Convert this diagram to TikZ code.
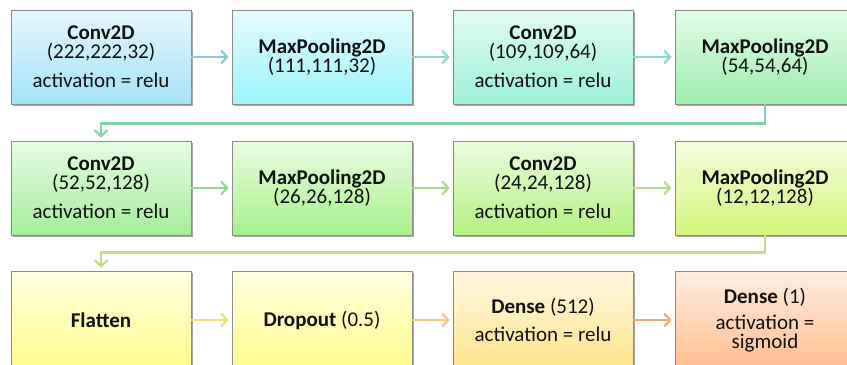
\documentclass[tikz,border=0pt]{standalone}
\usepackage{fontspec}
\setmainfont{Carlito}
\usetikzlibrary{arrows.meta,shadows}
\definecolor{boxborder}{HTML}{8C8C8C}
\definecolor{txt}{HTML}{111111}
\definecolor{t11}{HTML}{E6F7FD}\definecolor{b11}{HTML}{A4E2F7}
\definecolor{t12}{HTML}{E4FBFD}\definecolor{b12}{HTML}{9EF5FA}
\definecolor{t13}{HTML}{E2FBF4}\definecolor{b13}{HTML}{9CF1D8}
\definecolor{t14}{HTML}{E2FCE8}\definecolor{b14}{HTML}{9EEDAE}
\definecolor{t21}{HTML}{E6FBE3}\definecolor{b21}{HTML}{A4EF9A}
\definecolor{t22}{HTML}{E8FCE0}\definecolor{b22}{HTML}{A8F18C}
\definecolor{t23}{HTML}{EBFCDD}\definecolor{b23}{HTML}{B4F283}
\definecolor{t24}{HTML}{F4FDDC}\definecolor{b24}{HTML}{D4F67C}
\definecolor{t31}{HTML}{FFFFE0}\definecolor{b31}{HTML}{FFFC8C}
\definecolor{t32}{HTML}{FFFFE0}\definecolor{b32}{HTML}{FFFC8C}
\definecolor{t33}{HTML}{FFF8E2}\definecolor{b33}{HTML}{FFE48A}
\definecolor{t34}{HTML}{FFEEE2}\definecolor{b34}{HTML}{FFBE8E}
\definecolor{a11}{HTML}{8CCAD8}
\definecolor{a12}{HTML}{8CD8D0}
\definecolor{a13}{HTML}{8CDCB8}
\definecolor{l1}{HTML}{84D4A4}
\definecolor{a21}{HTML}{90DC90}
\definecolor{a22}{HTML}{A2DC84}
\definecolor{a23}{HTML}{B8E080}
\definecolor{l2}{HTML}{C4DE84}
\definecolor{a31}{HTML}{EEE080}
\definecolor{a32}{HTML}{F0CA84}
\definecolor{a33}{HTML}{F0AA76}
\begin{document}
\begin{tikzpicture}[x=1bp,y=1bp,
  layer/.style={draw=boxborder, line width=0.8bp, minimum width=180bp,
    minimum height=94bp, inner sep=0pt, align=center, text=txt,
    font=\fontsize{21bp}{19bp}\selectfont,
    drop shadow={shadow xshift=2bp, shadow yshift=-2bp, opacity=0.35, fill=black}},
  arr/.style={line width=2.2bp, shorten >=3bp,
    -{Straight Barb[length=6bp,width=13bp,line width=2.2bp]}}]
\useasboundingbox (0,0) rectangle (847,364);
% row 1
\node[layer, top color=t11, bottom color=b11] (n11) at (101,307)
  {\textbf{Conv2D}\\(222,222,32)\\[10bp]activation = relu};
\node[layer, top color=t12, bottom color=b12] (n12) at (322,307)
  {\textbf{MaxPooling2D}\\(111,111,32)};
\node[layer, top color=t13, bottom color=b13] (n13) at (543,307)
  {\textbf{Conv2D}\\(109,109,64)\\[10bp]activation = relu};
\node[layer, top color=t14, bottom color=b14] (n14) at (765,307)
  {\textbf{MaxPooling2D}\\(54,54,64)};
% row 2
\node[layer, top color=t21, bottom color=b21] (n21) at (101,176)
  {\textbf{Conv2D}\\(52,52,128)\\[10bp]activation = relu};
\node[layer, top color=t22, bottom color=b22] (n22) at (322,176)
  {\textbf{MaxPooling2D}\\(26,26,128)};
\node[layer, top color=t23, bottom color=b23] (n23) at (543,176)
  {\textbf{Conv2D}\\(24,24,128)\\[10bp]activation = relu};
\node[layer, top color=t24, bottom color=b24] (n24) at (765,176)
  {\textbf{MaxPooling2D}\\(12,12,128)};
% row 3
\node[layer, minimum height=98bp, top color=t31, bottom color=b31] (n31) at (101,44)
  {\textbf{Flatten}};
\node[layer, minimum height=98bp, top color=t32, bottom color=b32] (n32) at (322,44)
  {\textbf{Dropout} (0.5)};
\node[layer, minimum height=98bp, top color=t33, bottom color=b33] (n33) at (543,44)
  {\textbf{Dense} (512)\\[9bp]activation = relu};
\node[layer, minimum height=98bp, top color=t34, bottom color=b34] (n34) at (765,44)
  {\textbf{Dense} (1)\\[7bp]activation =\\sigmoid};
% connectors
\draw[arr, draw=a11] (n11.east) -- (n12.west);
\draw[arr, draw=a12] (n12.east) -- (n13.west);
\draw[arr, draw=a13] (n13.east) -- (n14.west);
\draw[arr, draw=l1] (n14.south) -- ++(0,-19) -| (n21.north);
\draw[arr, draw=a21] (n21.east) -- (n22.west);
\draw[arr, draw=a22] (n22.east) -- (n23.west);
\draw[arr, draw=a23] (n23.east) -- (n24.west);
\draw[arr, draw=l2] (n24.south) -- ++(0,-17) -| (n31.north);
\draw[arr, draw=a31] (n31.east) -- (n32.west);
\draw[arr, draw=a32] (n32.east) -- (n33.west);
\draw[arr, draw=a33] (n33.east) -- (n34.west);
\end{tikzpicture}
\end{document}
